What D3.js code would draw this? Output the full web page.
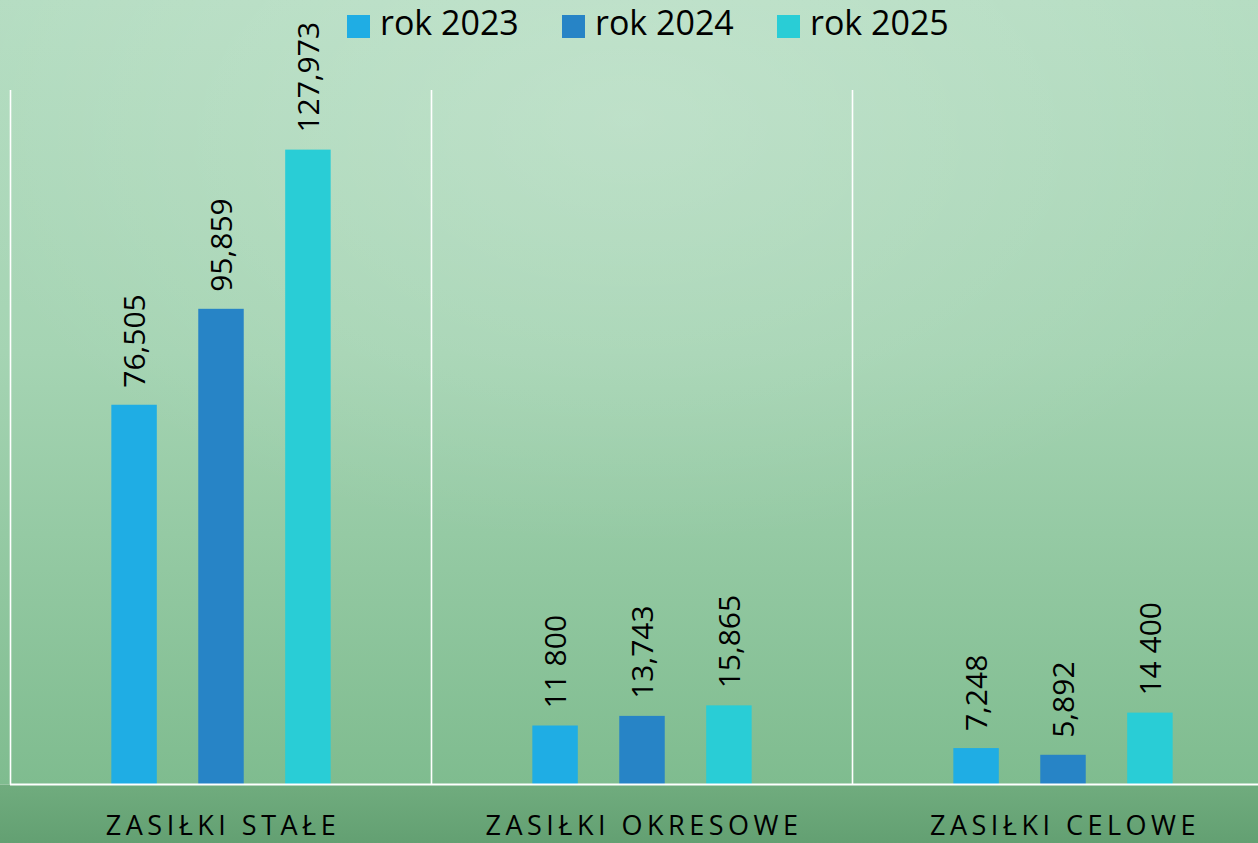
<!DOCTYPE html>
<html>
<head>
<meta charset="utf-8">
<script src="https://cdn.jsdelivr.net/npm/d3@7"></script>
<style>
html,body{margin:0;padding:0;overflow:hidden;}
svg{display:block;}
</style>
</head>
<body>
<svg id="chart" width="1258" height="843"></svg>
<script>
const categories = ["ZASIŁKI STAŁE", "ZASIŁKI OKRESOWE", "ZASIŁKI CELOWE"];
const seriesNames = ["rok 2023", "rok 2024", "rok 2025"];
const values2023 = [76505, 11800, 7248];
const values2024 = [95859, 13743, 5892];
const values2025 = [127973, 15865, 14400];
const labels2023 = ["76,505", "11 800", "7,248"];
const labels2024 = ["95,859", "13,743", "5,892"];
const labels2025 = ["127,973", "15,865", "14 400"];
const colors = ["#1fade4", "#2784c6", "#29cdd6"];

const W = 1258, H = 843;
const svg = d3.select("#chart");
const defs = svg.append("defs");

const lg = defs.append("linearGradient").attr("id","bg").attr("x1",0).attr("y1",0).attr("x2",0).attr("y2",1);
lg.append("stop").attr("offset","0%").attr("stop-color","#b5ddc2");
lg.append("stop").attr("offset","45%").attr("stop-color","#a5d4b3");
lg.append("stop").attr("offset","100%").attr("stop-color","#7fbc8f");
const rg = defs.append("radialGradient").attr("id","glow").attr("cx",0.5).attr("cy",0.15).attr("r",0.55);
rg.append("stop").attr("offset","0%").attr("stop-color","#ffffff").attr("stop-opacity",0.18);
rg.append("stop").attr("offset","100%").attr("stop-color","#ffffff").attr("stop-opacity",0);
const bg2 = defs.append("linearGradient").attr("id","band").attr("x1",0).attr("y1",0).attr("x2",0).attr("y2",1);
bg2.append("stop").attr("offset","0%").attr("stop-color","#70ac7e");
bg2.append("stop").attr("offset","100%").attr("stop-color","#63a072");

const baseY = 784.5;
svg.append("rect").attr("width",W).attr("height",baseY).attr("fill","url(#bg)");
svg.append("rect").attr("width",W).attr("height",baseY).attr("fill","url(#glow)");
svg.append("rect").attr("y",baseY).attr("width",W).attr("height",H-baseY).attr("fill","url(#band)");

const series = [
  {name: seriesNames[0], values: values2023, labels: labels2023, color: colors[0]},
  {name: seriesNames[1], values: values2024, labels: labels2024, color: colors[1]},
  {name: seriesNames[2], values: values2025, labels: labels2025, color: colors[2]}
];

const x0 = d3.scaleBand().domain(categories).range([10.5, 10.5 + 421*3]).padding(0);
const x1 = d3.scaleBand().domain(seriesNames).range([0, x0.bandwidth()]).paddingInner(0.477).paddingOuter(1.16);
const y = d3.scaleLinear().domain([0, 140000]).range([784, 90]);

// vertical separators
svg.append("g").selectAll("line").data(categories).join("line")
  .attr("x1", d => x0(d)).attr("x2", d => x0(d))
  .attr("y1", y(140000)).attr("y2", baseY)
  .attr("stroke", "#ffffff").attr("stroke-width", 1.6);

// bars
const groups = svg.append("g").selectAll("g").data(categories).join("g")
  .attr("transform", d => `translate(${x0(d)},0)`);

series.forEach((s) => {
  groups.append("rect")
    .attr("x", x1(s.name))
    .attr("width", x1.bandwidth())
    .attr("y", (d,i) => y(s.values[i]))
    .attr("height", (d,i) => y(0) - y(s.values[i]))
    .attr("fill", s.color);
  groups.append("text")
    .attr("transform", (d,i) => `translate(${x1(s.name) + x1.bandwidth()/2},${y(s.values[i]) - 17}) rotate(-90)`)
    .attr("dy", "0.36em")
    .attr("text-anchor", "start")
    .attr("font-family", "'Open Sans', sans-serif")
    .attr("font-size", 30)
    .attr("fill", "#000")
    .text((d,i) => s.labels[i]);
});

// baseline
svg.append("line").attr("x1", 10).attr("x2", W).attr("y1", baseY).attr("y2", baseY)
  .attr("stroke", "#ffffff").attr("stroke-width", 2);

// category labels
svg.append("g").selectAll("text").data(categories).join("text")
  .attr("x", d => x0(d) + x0.bandwidth()/2 + 2)
  .attr("y", 835)
  .attr("text-anchor", "middle")
  .attr("font-family", "'Open Sans', sans-serif")
  .attr("font-size", 27)
  .attr("letter-spacing", 4.5)
  .attr("fill", "#000")
  .text(d => d);

// legend
const legendX = [347, 562, 777];
const leg = svg.append("g").selectAll("g").data(series).join("g")
  .attr("transform", (d,i) => `translate(${legendX[i]},15)`);
leg.append("rect").attr("width", 23).attr("height", 23).attr("fill", d => d.color);
leg.append("text").attr("x", 33).attr("y", 20)
  .attr("font-family", "'Open Sans', sans-serif")
  .attr("font-size", 34)
  .attr("fill", "#000")
  .text(d => d.name);
</script>
</body>
</html>
